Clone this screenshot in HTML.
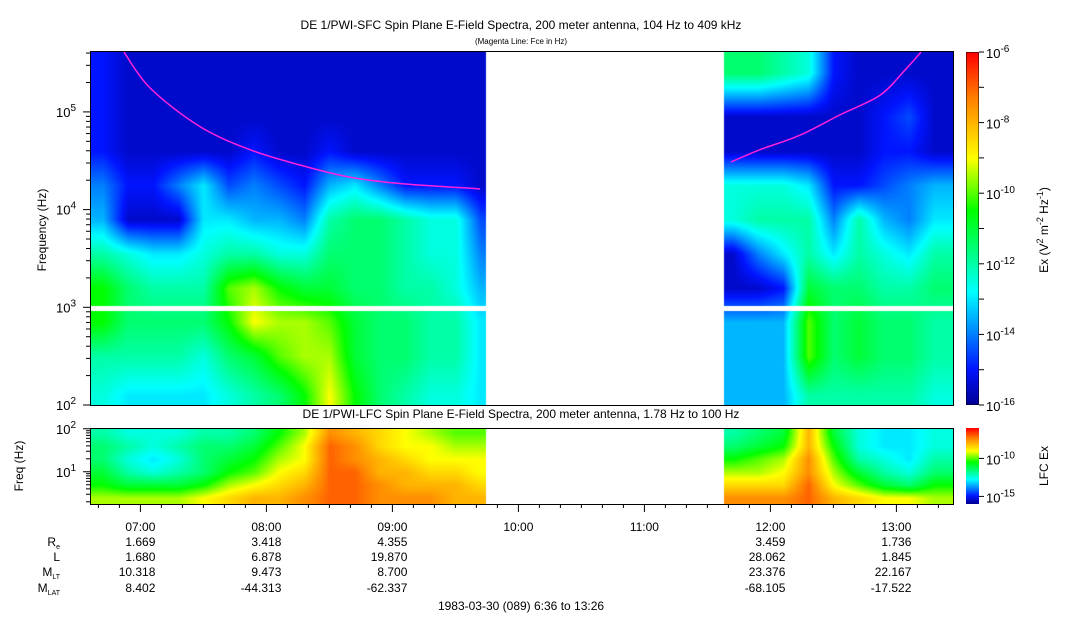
<!DOCTYPE html>
<html><head><meta charset="utf-8">
<style>
body{margin:0;background:#fff;width:1083px;height:620px;overflow:hidden;position:relative;font-family:"Liberation Sans",sans-serif}
canvas{position:absolute}
svg{position:absolute;left:0;top:0}
</style></head><body>
<canvas id="sfc" width="863" height="354" style="left:90px;top:51px"></canvas>
<canvas id="lfc" width="863" height="76" style="left:90px;top:428px"></canvas>
<canvas id="cb1" width="13" height="353" style="left:966px;top:52px"></canvas>
<canvas id="cb2" width="13" height="76" style="left:966px;top:428px"></canvas>
<svg id="ov" width="1083" height="620" font-family="Liberation Sans, sans-serif">
<text x="521" y="29" font-size="12" text-anchor="middle">DE 1/PWI-SFC  Spin Plane E-Field Spectra, 200 meter antenna, 104 Hz to 409 kHz</text>
<text x="521" y="44" font-size="8" text-anchor="middle">(Magenta Line: Fce in Hz)</text>
<text x="521" y="418" font-size="12" text-anchor="middle">DE 1/PWI-LFC  Spin Plane E-Field Spectra, 200 meter antenna, 1.78 Hz to 100 Hz</text>
<text transform="translate(46,230) rotate(-90)" font-size="12" text-anchor="middle">Frequency (Hz)</text>
<text transform="translate(23,466) rotate(-90)" font-size="12" text-anchor="middle">Freq (Hz)</text>
<text transform="translate(1048,230) rotate(-90)" font-size="12" text-anchor="middle">Ex (V<tspan baseline-shift="super" font-size="9">2</tspan> m<tspan baseline-shift="super" font-size="9">-2</tspan> Hz<tspan baseline-shift="super" font-size="9">-1</tspan>)</text>
<text transform="translate(1048,466) rotate(-90)" font-size="12" text-anchor="middle">LFC Ex</text>
<text x="521" y="610" font-size="12" text-anchor="middle">1983-03-30 (089) 6:36 to 13:26</text>
</svg>
<script>
// ---- data ----
const leftCols=[6.7,6.9,7.1,7.3,7.5,7.7,7.9,8.1,8.3,8.5,8.7,8.9,9.1,9.3,9.5,9.7];
const rightCols=[11.7,11.9,12.1,12.3,12.5,12.7,12.9,13.1,13.3];
const sfcRows=[2.1,2.5,2.85,3.2,3.55,3.9,4.25,4.6,4.95,5.4];
const sfcLeft=[
[-12.5,-12,-10.5,-10.5,-12,-13.5,-14,-15,-15,-15],
[-13,-12,-11.5,-11.5,-12.5,-15.5,-15,-15.5,-15.5,-15.5],
[-13,-12,-11.5,-12,-13,-15.5,-15,-15.5,-15.5,-15.5],
[-13,-12,-11.5,-12,-13,-15.5,-14,-15.5,-15.5,-15.5],
[-13,-12.5,-11.5,-12,-12.5,-13,-13,-15.5,-15.5,-15.5],
[-12.5,-11.5,-10.5,-10,-12,-13,-14.5,-15.5,-15.5,-15.5],
[-12,-11,-9,-9.5,-12,-13.5,-14,-15,-15.5,-15.5],
[-11.5,-10,-9.5,-10.5,-12.5,-13.5,-14.5,-15.5,-15.5,-15.5],
[-10.5,-9.5,-9.5,-11,-12.5,-14,-15,-15.5,-15.5,-15.5],
[-9,-9.5,-10,-11,-11.5,-12,-13.5,-15,-15.5,-15.5],
[-10.5,-11,-11,-11.5,-11.5,-11.5,-13,-15.5,-15.5,-15.5],
[-11.5,-11.5,-11.5,-11.5,-11.5,-11.5,-14,-15.5,-15.5,-15.5],
[-12,-11.5,-11.5,-12,-12,-12,-15,-15.5,-15.5,-15.5],
[-12.5,-12,-12,-12,-12.5,-12.5,-15,-15.5,-15.5,-15.5],
[-12.5,-12,-12,-12.5,-12.5,-12.5,-15,-15.5,-15.5,-15.5],
[-13,-13,-13,-13.5,-14,-14.5,-15.5,-15.5,-15.5,-15.5]];
const sfcRight=[
[-13.5,-13.5,-13.5,-15.5,-15.5,-12.5,-12.5,-15.5,-15.5,-11.5],
[-13.5,-13.5,-13.5,-15.5,-14,-12,-12.5,-15.5,-15.5,-11.5],
[-13.5,-13.5,-13.5,-15,-13,-12,-12.5,-15.5,-15.5,-12],
[-12,-10,-10,-11,-12,-12,-13,-15.5,-15.5,-12.5],
[-12,-11.5,-11.5,-11.5,-13,-14,-15,-15.5,-15.5,-15],
[-12,-11,-11,-11.5,-12,-12,-15,-15.5,-15.5,-15.5],
[-12,-11.5,-11.5,-12,-12.5,-13.5,-14.5,-15,-15,-15.5],
[-12,-11.5,-11.5,-12,-13,-14,-14,-15,-14.5,-15.5],
[-12.5,-12,-12,-11.5,-12,-13,-13.5,-15.5,-15.5,-15.5]];
const lfcRows=[0.4,0.7,1.0,1.3,1.6,1.9];
const lfcLeft=[
[-9.5,-10.5,-11,-11.5,-11.5,-12],[-9.5,-11,-12,-12.5,-12,-12.5],[-9.5,-11,-12.5,-13,-12.5,-12.5],
[-9.5,-11,-12,-12.5,-12,-12.5],[-9,-10.5,-11.5,-11.5,-11.5,-12],[-8.5,-9.5,-10.5,-11,-11.5,-12],
[-8,-9,-10,-10.5,-11,-11.5],[-8,-8.5,-9,-9.5,-10,-10.5],[-7.5,-8,-8.5,-9,-9,-9.5],
[-7,-7,-7,-7,-7,-7.5],[-7,-7,-7,-7.5,-7.5,-8],[-7.5,-7.5,-8,-8,-8.5,-8.5],
[-7.5,-8,-8,-8.5,-9,-9],[-7.5,-8,-8.5,-9,-9,-9.5],[-8,-8,-8.5,-9,-9.5,-10],[-8,-8.5,-9,-9,-9.5,-10]];
const lfcRight=[
[-7.5,-8.5,-9.5,-10.5,-11.5,-12],[-7.5,-8.5,-9.5,-10,-11,-11.5],[-7.5,-8.5,-9,-9.5,-10.5,-11],
[-7,-7,-7.5,-7.5,-8,-8],[-8,-9,-9.5,-10,-10.5,-11],[-8.5,-10,-11,-12,-12.5,-12.5],
[-9,-11,-12,-12.5,-13,-13],[-9,-11.5,-12.5,-13,-13,-13],[-9.5,-10.5,-11.5,-12,-12.5,-12.5]];
const fceLeftT=[6.87,7.076,7.47,7.87,8.267,8.66,9.06,9.695];
const fceLeftF=[409000,176000,71000,41000,28600,21500,18500,16300];
const fceRightT=[11.687,11.917,12.235,12.55,12.87,13.07,13.195];
const fceRightF=[30700,41000,57800,93000,148000,270000,409000];
const hourTicks=["07:00","08:00","09:00","10:00","11:00","12:00","13:00"];
const ephemLabels=["R","L","M","M"];
const ephemCols=[7,8,9,12,13];
const Re=["1.669","3.418","4.355","3.459","1.736"];
const Lsh=["1.680","6.878","19.870","28.062","1.845"];
const MLT=["10.318","9.473","8.700","23.376","22.167"];
const MLAT=["8.402","-44.313","-62.337","-68.105","-17.522"];
// ---- axes ----
const X0=90,T0=6.6,T1=6.6+863/126;
const xs=t=>X0+(t-T0)*126;
const ys=lf=>405-(lf-2)*97.7;
const yl=lf=>504-(lf-0.25)*43;
const gapStart=486,gapEnd=724;
const stops=[[0,[0,0,150]],[0.1,[0,20,255]],[0.22,[0,150,255]],[0.32,[0,255,255]],[0.55,[0,255,0]],[0.7,[255,255,0]],[0.87,[255,128,0]],[1,[255,0,0]]];
function jet(v,lo,hi){let t=Math.max(0,Math.min(1,(v-lo)/(hi-lo)));
 let i=0;while(i<stops.length-2&&t>stops[i+1][0])i++;
 const a=(t-stops[i][0])/(stops[i+1][0]-stops[i][0]);
 return [0,1,2].map(k=>Math.round(stops[i][1][k]+(stops[i+1][1][k]-stops[i][1][k])*a));}
function interp(cols,rows,grid,t,f){
 let i=0;while(i<cols.length-2&&t>cols[i+1])i++;
 let a=(t-cols[i])/(cols[i+1]-cols[i]);a=Math.max(0,Math.min(1,a));
 let j=0;while(j<rows.length-2&&f>rows[j+1])j++;
 let b=(f-rows[j])/(rows[j+1]-rows[j]);b=Math.max(0,Math.min(1,b));
 const g=(ii,jj)=>grid[ii][jj];
 return (1-a)*((1-b)*g(i,j)+b*g(i,j+1))+a*((1-b)*g(i+1,j)+b*g(i+1,j+1));}
function paint(id,h,yToF,rows,L,R,lo,hi,gapY){
 const cv=document.getElementById(id),ctx=cv.getContext('2d'),im=ctx.createImageData(863,h);
 for(let py=0;py<h;py++){const f=yToF(py);
  for(let px=0;px<863;px++){const X=X0+px;let k=(py*863+px)*4;
   if(X>=gapStart&&X<gapEnd||(gapY&&py>=gapY[0]&&py<gapY[1])){im.data[k]=im.data[k+1]=im.data[k+2]=255;im.data[k+3]=255;continue;}
   const t=T0+px/126;const v=X<gapStart?interp(leftCols,rows,L,t,f):interp(rightCols,rows,R,t,f);
   const c=jet(v,lo,hi);im.data[k]=c[0];im.data[k+1]=c[1];im.data[k+2]=c[2];im.data[k+3]=255;}}
 ctx.putImageData(im,0,0);}
paint('sfc',354,py=>2+(354-py)/97.7,sfcRows,sfcLeft,sfcRight,-16,-6,[255,260]);
paint('lfc',76,py=>0.25+(76-py)/43,lfcRows,lfcLeft,lfcRight,-16,-6,null);
function bar(id,h){const cv=document.getElementById(id),ctx=cv.getContext('2d');
 for(let y=0;y<h;y++){const c=jet(-6-10*y/(h-1),-16,-6);ctx.fillStyle=`rgb(${c})`;ctx.fillRect(0,y,13,1);}}
bar('cb1',353);bar('cb2',76);
// ---- svg overlay ----
const NS='http://www.w3.org/2000/svg',svg=document.getElementById('ov');
function mk(tag,at,txt){const e=document.createElementNS(NS,tag);for(const k in at)e.setAttribute(k,at[k]);if(txt!==undefined)e.textContent=txt;svg.appendChild(e);return e;}
let e;
e=mk('rect',{x:90.5,y:51.5,width:863,height:354,fill:'none',stroke:'#000'});


e=mk('rect',{x:90.5,y:428.5,width:863,height:76,fill:'none',stroke:'#000'});


function curve(T,F,name){const P=T.map((t,i)=>[xs(t),ys(Math.log10(F[i]))]);
 let d='M'+P[0][0].toFixed(1)+','+P[0][1].toFixed(1);
 for(let i=0;i<P.length-1;i++){const p0=P[Math.max(0,i-1)],p1=P[i],p2=P[i+1],p3=P[Math.min(P.length-1,i+2)];
  const c1=[p1[0]+(p2[0]-p0[0])/6,p1[1]+(p2[1]-p0[1])/6],c2=[p2[0]-(p3[0]-p1[0])/6,p2[1]-(p3[1]-p1[1])/6];
  d+='C'+c1.map(v=>v.toFixed(1))+' '+c2.map(v=>v.toFixed(1))+' '+p2.map(v=>v.toFixed(1));}
 const p=mk('path',{d:d,fill:'none',stroke:'#ff22dd','stroke-width':1.5});
 
 }
curve(fceLeftT,fceLeftF,'fce-line-left');curve(fceRightT,fceRightF,'fce-line-right');
for(let d=2;d<=5;d++){for(let m=1;m<10;m++){const lf=d+Math.log10(m);if(lf>5.61)break;const y=ys(lf);
 mk('line',{x1:90,x2:m==1?83:86,y1:y,y2:y,stroke:'#000'});}
 e=mk('text',{x:76,y:ys(d)+5,'font-size':13,'text-anchor':'end'});
 e.innerHTML='10<tspan dy="-6" font-size="10">'+d+'</tspan>';
 
 }
for(let d=0;d<=2;d++){for(let m=1;m<10;m++){const lf=d+Math.log10(m);if(lf<0.25||lf>2)continue;const y=yl(lf);
 mk('line',{x1:90,x2:m==1?83:86,y1:y,y2:y,stroke:'#000'});}
 if(d>0){e=mk('text',{x:76,y:yl(d)+5,'font-size':13,'text-anchor':'end'});
 e.innerHTML='10<tspan dy="-6" font-size="10">'+d+'</tspan>';
 
 }}
for(let k=0;k<=10;k++){const y=52+k*35.3;mk('line',{x1:979,x2:984,y1:y,y2:y,stroke:'#000'});
 if(k%2==0){e=mk('text',{x:986,y:y+6,'font-size':13});e.innerHTML='10<tspan dy="-6" font-size="10">'+(-6-k)+'</tspan>';
 
 }}
mk('rect',{x:966.5,y:52.5,width:12,height:352,fill:'none',stroke:'#000','stroke-width':0.5});
[-10,-15].forEach(v=>{const y=428+(-6-v)*7.6;mk('line',{x1:979,x2:984,y1:y,y2:y,stroke:'#000'});
 e=mk('text',{x:986,y:y+6,'font-size':13});e.innerHTML='10<tspan dy="-6" font-size="10">'+v+'</tspan>';
 
 });
for(let m=Math.ceil(T0*6);m<=T1*6;m++){const x=xs(m/6);const maj=m%6==0;
 mk('line',{x1:x,x2:x,y1:504,y2:maj?512:508,stroke:'#000'});}
hourTicks.forEach((s,i)=>{e=mk('text',{x:xs(7+i),y:531,'font-size':12,'text-anchor':'middle'},s);
 
 });
const rowsY=[546,561,576,592],rowsD=[Re,Lsh,MLT,MLAT],subs=['e','','LT','LAT'];
rowsD.forEach((arr,r)=>{e=mk('text',{x:60,y:rowsY[r],'font-size':12,'text-anchor':'end'});
 e.innerHTML=ephemLabels[r]+(subs[r]?'<tspan font-size="7" dy="3">'+subs[r]+'</tspan>':'');
 
 
 arr.forEach((v,i)=>{e=mk('text',{x:xs(ephemCols[i])+15,y:rowsY[r],'font-size':12,'text-anchor':'end'},v);
 
 });});
</script>
</body></html>
